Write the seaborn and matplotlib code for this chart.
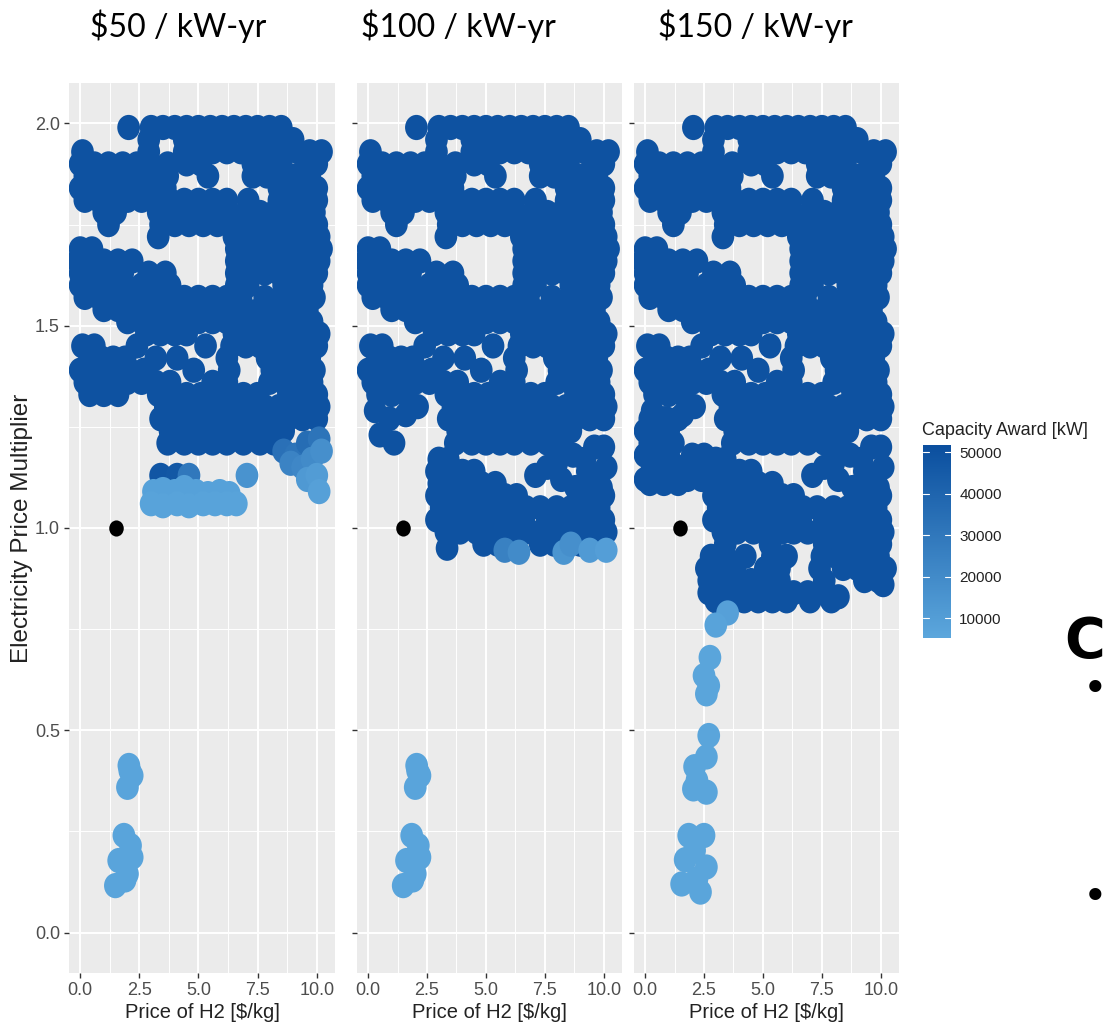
import matplotlib
matplotlib.use("Agg")
import matplotlib.pyplot as plt
import matplotlib.transforms as mtrans
from matplotlib.path import Path
from matplotlib.colors import LinearSegmentedColormap, Normalize
import numpy as np
import pandas as pd
import seaborn as sns

# ---------------------------------------------------------------- data
panel_titles = ["$50 / kW-yr", "$100 / kW-yr", "$150 / kW-yr"]
panel_keys = ["p50", "p100", "p150"]

# scenarios awarded the full 50 MW in every capacity-price case (rows of equal multiplier)
upper_rows_y = [1.99, 1.96, 1.93, 1.90, 1.87, 1.84, 1.81, 1.78, 1.75, 1.72, 1.69, 1.66,
                1.63, 1.60, 1.57, 1.54, 1.51, 1.48, 1.45, 1.42, 1.39, 1.36, 1.33, 1.30,
                1.27, 1.24, 1.21]
upper_rows_x = [
    [2.05, 3.0, 3.5, 4.0, 4.5, 5.0, 5.5, 6.0, 6.5, 7.0, 7.5, 8.0, 8.5],
    [2.9, 4.4, 5.0, 5.6, 6.2, 6.8, 7.4, 8.0, 8.6, 9.0],
    [0.1, 2.9, 4.4, 5.0, 5.6, 6.2, 6.8, 7.4, 8.0, 8.6, 9.2, 9.7, 10.2],
    [0.0, 0.6, 1.2, 1.8, 2.4, 2.9, 3.7, 4.5, 5.1, 7.3, 7.9, 8.5, 9.6, 10.0],
    [0.2, 0.8, 1.4, 2.0, 2.6, 3.2, 3.7, 5.4, 7.3, 7.9, 8.5, 9.1, 9.7],
    [0.0, 0.6, 1.2, 1.8, 2.4, 3.0, 3.6, 8.4, 9.0, 9.6, 10.0],
    [0.2, 0.8, 1.4, 2.0, 2.6, 3.2, 3.8, 4.4, 5.0, 5.6, 6.2, 7.1, 8.4, 9.0, 9.6, 10.0],
    [1.0, 1.5, 3.3, 3.9, 4.5, 5.1, 5.7, 6.2, 7.0, 7.6, 8.2, 8.8, 9.4, 9.9],
    [1.2, 3.4, 4.0, 4.6, 5.2, 5.8, 6.4, 7.0, 7.6, 8.2, 8.8, 9.4, 10.0],
    [3.3, 6.5, 7.1, 7.7, 8.3, 8.9, 9.5, 10.1],
    [0.0, 0.5, 6.6, 7.2, 7.8, 8.4, 9.0, 9.6, 10.2],
    [-0.1, 0.4, 1.0, 1.6, 2.2, 6.6, 7.2, 7.8, 8.4, 9.0, 9.6, 10.1],
    [0.0, 0.6, 1.2, 1.8, 2.9, 3.6, 6.6, 7.2, 7.8, 8.4, 9.0, 9.6, 10.0],
    [0.0, 0.6, 1.2, 1.8, 2.6, 3.2, 3.8, 6.6, 7.1, 8.6, 9.2, 9.8],
    [0.2, 0.8, 1.4, 2.0, 2.6, 3.2, 3.8, 4.4, 5.0, 5.6, 6.2, 6.8, 7.8, 8.6, 9.2, 9.9],
    [1.0, 1.6, 2.2, 2.8, 3.4, 4.0, 4.6, 5.2, 5.8, 6.4, 7.0, 7.6, 8.3, 9.0, 9.6],
    [2.0, 2.6, 3.2, 3.8, 4.4, 5.0, 5.6, 6.2, 6.8, 7.4, 8.0, 8.6, 9.2, 9.8],
    [2.8, 3.4, 4.0, 4.5, 6.5, 7.1, 7.7, 8.3, 8.9, 9.5, 10.1],
    [0.1, 0.6, 2.4, 5.3, 6.4, 7.0, 7.6, 8.2, 8.8, 9.4, 10.0],
    [0.4, 0.9, 1.4, 1.9, 3.2, 4.1, 6.2, 7.9, 8.5, 9.1, 9.7],
    [0.0, 0.5, 1.0, 1.6, 2.1, 2.7, 4.8, 6.3, 8.1, 8.7, 9.3, 9.9],
    [0.2, 0.8, 1.4, 2.0, 2.6, 3.2, 3.8, 5.6, 6.2, 8.0, 8.6, 9.2, 9.8],
    [0.4, 1.0, 1.6, 3.3, 3.9, 4.5, 5.1, 5.7, 6.3, 6.9, 7.5, 8.8, 9.4, 10.0],
    [3.6, 4.2, 4.8, 5.4, 6.0, 6.6, 7.2, 7.8, 8.4, 9.0, 9.6, 10.1],
    [3.4, 4.0, 4.6, 5.2, 5.8, 6.4, 7.0, 7.6, 8.2, 8.8, 9.4, 10.0],
    [3.8, 4.4, 5.0, 5.6, 6.2, 6.8, 7.4, 8.0, 8.6],
    [3.7, 4.4, 5.0, 5.6, 6.2, 6.9, 7.6, 8.2],
]

# scenarios awarded in both the $100 and $150 cases (full award)
mid_x = [0.3, 0.9, 1.6, 2.1, 0.5, 1.1,
         7.6, 8.0, 8.7, 9.2, 9.6, 10.0, 8.2, 8.8, 9.3, 9.7, 10.1, 9.5, 9.9, 10.0, 7.1,
         3.0, 3.4, 2.9, 3.5, 4.0, 4.5, 3.0, 3.6, 4.2, 4.8, 5.4,
         2.9, 3.4, 4.0, 4.6, 5.2, 5.8, 6.3,
         3.1, 3.7, 4.3, 4.9, 5.5, 6.1, 6.7, 7.3, 8.0, 8.6, 9.2, 9.8,
         2.9, 3.5, 4.1, 4.7, 5.3, 6.0, 6.6, 7.6, 8.2, 8.8, 9.4, 10.0,
         3.3, 3.9, 4.6, 5.1, 5.8, 6.3, 6.9, 7.5, 8.1, 8.8, 9.5, 10.1]
mid_y = [1.29, 1.27, 1.28, 1.30, 1.23, 1.21,
         1.15, 1.16, 1.18, 1.17, 1.20, 1.20, 1.12, 1.10, 1.14, 1.13, 1.15, 1.10, 1.10, 1.08, 1.13,
         1.17, 1.17, 1.14, 1.14, 1.14, 1.14, 1.11, 1.11, 1.11, 1.11, 1.11,
         1.08, 1.08, 1.08, 1.08, 1.08, 1.08, 1.08,
         1.05, 1.05, 1.05, 1.05, 1.05, 1.05, 1.05, 1.05, 1.05, 1.05, 1.05, 1.05,
         1.02, 1.02, 1.02, 1.02, 1.02, 1.02, 1.02, 1.02, 1.02, 1.02, 1.02, 1.02,
         0.99, 0.99, 0.99, 0.99, 0.99, 0.99, 0.99, 0.99, 0.99, 0.99, 0.99, 0.99]

# $50 / kW-yr: partial awards just above the baseline multiplier
p50_x = [3.4, 4.1, 4.6, 7.05,
         3.1, 3.5, 4.0, 4.4, 4.9, 5.4, 5.9, 6.3,
         3.0, 3.5, 4.1, 4.6, 5.2, 5.7, 6.2, 6.6,
         8.6, 9.1, 9.6, 10.1, 8.9, 9.4, 9.8, 10.2, 9.6, 10.0, 10.1]
p50_y = [1.13, 1.13, 1.13, 1.13,
         1.09, 1.095, 1.09, 1.10, 1.09, 1.085, 1.09, 1.085,
         1.06, 1.055, 1.06, 1.055, 1.06, 1.06, 1.06, 1.06,
         1.19, 1.18, 1.21, 1.22, 1.16, 1.15, 1.17, 1.19, 1.12, 1.13, 1.09]
p50_kw = [48000, 47000, 30000, 16000,
          8500, 8500, 8500, 8500, 8500, 8500, 8500, 8500,
          7500, 7500, 7500, 7500, 7500, 7500, 7500, 7500,
          34000, 32000, 36000, 32000, 24000, 22000, 20000, 18000, 13000, 11000, 9000]

# $100 / kW-yr: bottom edge of the awarded region
p100_x = [3.35, 4.9, 5.5, 7.3, 7.9, 9.0, 9.7, 5.8, 6.4, 8.3, 8.6, 9.4, 10.1]
p100_y = [0.95, 0.96, 0.96, 0.96, 0.96, 0.96, 0.97, 0.945, 0.94, 0.94, 0.96, 0.945, 0.945]
p100_kw = [50000, 50000, 50000, 50000, 50000, 50000, 50000, 25000, 20000, 15000, 18000, 12000, 10000]

# $150 / kW-yr: left band and the region below the baseline multiplier
p150_x = [0.2, 0.8, 1.4, 0.0, 0.5, 1.0, 0.2, 0.7, 1.2, 0.0, 0.5, 1.0, 2.0, 2.5,
          0.3, 0.9, 1.5, 2.2, 2.7, 0.0, 0.6, 1.2, 1.8, 2.4, 0.2, 0.8, 1.4,
          3.4, 5.3, 7.6, 8.2, 8.8, 9.4, 10.0,
          2.8, 3.4, 4.25, 5.4, 6.0, 7.5, 8.1, 8.7, 9.3, 9.9,
          2.6, 3.2, 3.8, 5.1, 5.7, 7.4, 8.4, 9.0, 9.6, 10.2,
          2.7, 3.3, 3.9, 4.5, 5.1, 5.7, 7.6, 9.3, 9.9,
          2.7, 3.3, 3.9, 4.5, 5.1, 5.7, 6.3, 6.9, 7.5, 8.2, 10.1,
          3.0, 3.6, 4.2, 4.8, 5.4, 6.0, 7.0, 7.9,
          3.5, 3.0, 2.75, 2.5, 2.7, 2.6, 2.7, 2.6, 2.1, 2.2, 2.05, 2.6,
          1.85, 2.5, 2.1, 1.7, 2.6, 1.55, 2.35, 2.2]
p150_y = [1.27, 1.27, 1.27, 1.24, 1.24, 1.24, 1.21, 1.21, 1.21, 1.18, 1.18, 1.18, 1.18, 1.18,
          1.15, 1.15, 1.15, 1.15, 1.15, 1.12, 1.12, 1.12, 1.12, 1.12, 1.11, 1.11, 1.11,
          0.96, 0.96, 0.96, 0.96, 0.96, 0.96, 0.96,
          0.93, 0.93, 0.93, 0.93, 0.93, 0.93, 0.93, 0.93, 0.93, 0.93,
          0.90, 0.90, 0.90, 0.90, 0.90, 0.90, 0.90, 0.90, 0.90, 0.90,
          0.87, 0.87, 0.87, 0.87, 0.87, 0.87, 0.87, 0.87, 0.87,
          0.84, 0.84, 0.84, 0.84, 0.84, 0.84, 0.84, 0.84, 0.84, 0.83, 0.86,
          0.82, 0.82, 0.82, 0.82, 0.82, 0.82, 0.82, 0.82,
          0.79, 0.76, 0.68, 0.635, 0.61, 0.59, 0.487, 0.434, 0.41, 0.376, 0.355, 0.347,
          0.24, 0.24, 0.203, 0.18, 0.162, 0.12, 0.10, 0.133]
p150_kw = [50000] * 82 + [9000, 7500] + [6500] * 18

# low-multiplier cluster shared by the $50 and $100 cases
low_x = [2.06, 2.2, 2.0, 2.1, 1.85, 2.13, 2.2, 1.63, 2.0, 1.49, 1.9]
low_y = [0.413, 0.388, 0.359, 0.40, 0.24, 0.215, 0.186, 0.178, 0.145, 0.116, 0.13]
low_kw = [7000] * 11

# current operating point
base_x = [1.5]
base_y = [1.0]

kw_min, kw_max = 5200, 51700

# ---------------------------------------------------------------- tables
up_x, up_y = [], []
for yy, xs in zip(upper_rows_y, upper_rows_x):
    up_x += xs
    up_y += [yy] * len(xs)

def frame(xs, ys, kws):
    return pd.DataFrame({"h2": xs, "mult": ys, "kw": kws})

upper = frame(up_x, up_y, [50000] * len(up_x))
mid = frame(mid_x, mid_y, [50000] * len(mid_x))
low = frame(low_x, low_y, low_kw)
panels = {
    "p50": pd.concat([upper, frame(p50_x, p50_y, p50_kw), low], ignore_index=True),
    "p100": pd.concat([upper, mid, frame(p100_x, p100_y, p100_kw), low], ignore_index=True),
    "p150": pd.concat([upper, mid, frame(p150_x, p150_y, p150_kw)], ignore_index=True),
}

# ---------------------------------------------------------------- style
sns.set_theme(style="darkgrid")
plt.rcParams["font.family"] = ["Liberation Sans", "DejaVu Sans"]

cmap = LinearSegmentedColormap.from_list("award", ["#5CA7DD", "#0B4F9F"])
norm = Normalize(kw_min, kw_max)

# round point, a touch taller than wide
ell = Path.unit_circle().transformed(mtrans.Affine2D().scale(0.9, 1.0))

W, H = 1107, 1035
fig = plt.figure(figsize=(W / 100, H / 100), dpi=100)
fig.patch.set_facecolor("white")

ax_px = [(69, 335), (357, 622), (634, 899)]
title_cx = [178, 458, 755]
top_px, bot_px = 83, 973

for i, (key, title) in enumerate(zip(panel_keys, panel_titles)):
    l, r = ax_px[i]
    ax = fig.add_axes([l / W, 1 - bot_px / H, (r - l) / W, (bot_px - top_px) / H])
    ax.set_facecolor("#EBEBEB")
    df = panels[key]
    sns.scatterplot(data=df, x="h2", y="mult", hue="kw", palette=cmap, hue_norm=norm,
                    marker=ell, s=330, linewidth=0, legend=False, ax=ax, zorder=3)
    sns.scatterplot(x=base_x, y=base_y, color="black", marker=ell, s=135, linewidth=0,
                    legend=False, ax=ax, zorder=4)
    ax.set_xlim(-0.47, 10.77)
    ax.set_ylim(-0.10, 2.10)
    ax.set_xticks([0, 2.5, 5, 7.5, 10])
    ax.set_xticklabels(["0.0", "2.5", "5.0", "7.5", "10.0"])
    ax.set_yticks([0, 0.5, 1.0, 1.5, 2.0])
    ax.set_xticks([1.25, 3.75, 6.25, 8.75], minor=True)
    ax.set_yticks([0.25, 0.75, 1.25, 1.75], minor=True)
    ax.grid(which="major", color="white", linewidth=1.4)
    ax.grid(which="minor", color="white", linewidth=0.7)
    ax.set_axisbelow(True)
    for sp in ax.spines.values():
        sp.set_visible(False)
    ax.tick_params(which="major", length=3.5, width=1.0, color="#333333",
                   labelcolor="#4D4D4D", bottom=True, left=True, pad=3, labelsize=13)
    ax.tick_params(which="minor", length=0)
    if i == 0:
        ax.set_yticklabels(["0.0", "0.5", "1.0", "1.5", "2.0"])
        ax.set_ylabel("Electricity Price Multiplier", fontsize=17.5, color="#222222")
        ax.yaxis.set_label_coords(-0.137, 0.5)
    else:
        ax.set_yticklabels([])
        ax.set_ylabel("")
    ax.set_xlabel(r"Price of H2 [\$/kg]", fontsize=14.5, color="#222222", labelpad=3)
    fig.text(title_cx[i] / W, 1 - 26 / H, title.replace("$", r"\$"), ha="center",
             va="center", fontsize=23, fontfamily=["Lato", "DejaVu Sans"], color="black")

# colour bar legend
cax = fig.add_axes([923 / W, 1 - 638 / H, 28 / W, (638 - 445) / H])
grad = np.linspace(kw_min, kw_max, 256).reshape(-1, 1)
cax.imshow(grad, aspect="auto", cmap=cmap, norm=norm, origin="lower",
           extent=[0, 1, kw_min, kw_max])
cax.set_xlim(0, 1)
cax.set_ylim(kw_min, kw_max)
cax.set_xticks([])
cax.grid(False)
legend_ticks = [10000, 20000, 30000, 40000, 50000]
cax.set_yticks(legend_ticks)
cax.yaxis.tick_right()
cax.set_yticklabels([str(t) for t in legend_ticks], fontsize=11, color="#222222")
cax.tick_params(axis="y", length=0, pad=6)
for t in legend_ticks:
    cax.plot([0, 0.2], [t, t], color="white", lw=0.8)
    cax.plot([0.8, 1], [t, t], color="white", lw=0.8)
for sp in cax.spines.values():
    sp.set_visible(False)
fig.text(922 / W, 1 - 431 / H, "Capacity Award [kW]", ha="left", va="center",
         fontsize=13, color="#222222")

# slide text continuing at the right edge
fig.text(1105 / W, 1 - 642 / H, "C", ha="right", va="center", fontsize=40,
         fontweight="bold", fontfamily=["DejaVu Sans"], color="black")
for yb in (690, 898):
    fig.text(1095 / W, 1 - yb / H, "\u2022", ha="center", va="center", fontsize=30,
             fontfamily=["DejaVu Sans"], color="black")

fig.savefig("out.png", dpi=100)
